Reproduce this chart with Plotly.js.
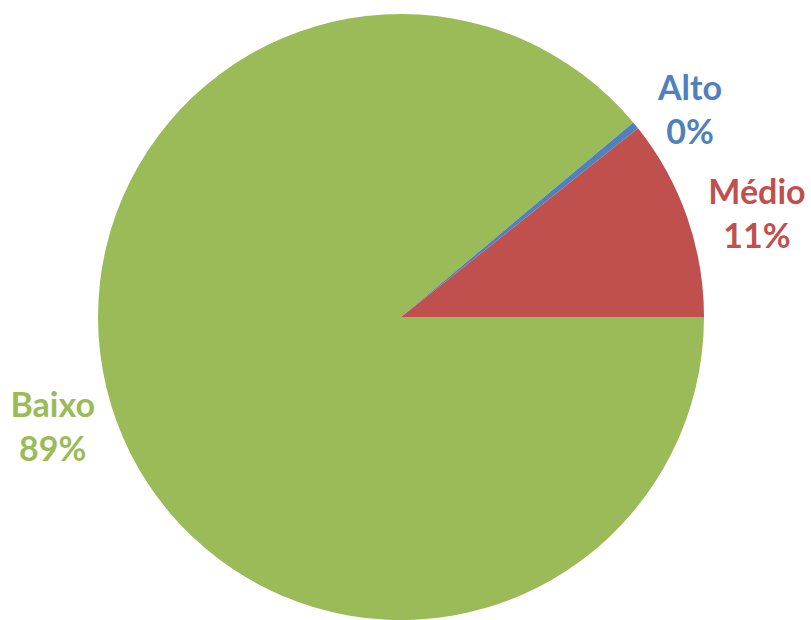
<!DOCTYPE html>
<html>
<head>
<meta charset="utf-8">
<script src="https://cdn.plot.ly/plotly-3.0.1.min.js"></script>
<style>html,body{margin:0;padding:0;background:#fff;}#chart{width:811px;height:620px;}</style>
</head>
<body>
<div id="chart"></div>
<script>
const labels = ['Baixo', 'Alto', 'Médio'];
const values = [88.9, 0.4, 10.7];
const colors = ['#9BBB59', '#4F81BD', '#C0504D'];

const data = [{
  type: 'pie',
  labels: labels,
  values: values,
  sort: false,
  direction: 'clockwise',
  rotation: 90,
  marker: {colors: colors, line: {width: 0}},
  textposition: 'outside',
  texttemplate: '%{label}<br>%{percent:.0%}',
  hoverinfo: 'none',
  outsidetextfont: {family: 'Lato, sans-serif', size: 34, color: colors, weight: 'bold'},
  showlegend: false,
  automargin: false,
  domain: {x: [0.1208, 0.8681], y: [0, 0.9774]}
}];

const layout = {
  width: 811, height: 620,
  margin: {l: 0, r: 0, t: 0, b: 0},
  paper_bgcolor: '#fff',
  showlegend: false
};

Plotly.newPlot('chart', data, layout, {displayModeBar: false, staticPlot: true});
</script>
</body>
</html>
